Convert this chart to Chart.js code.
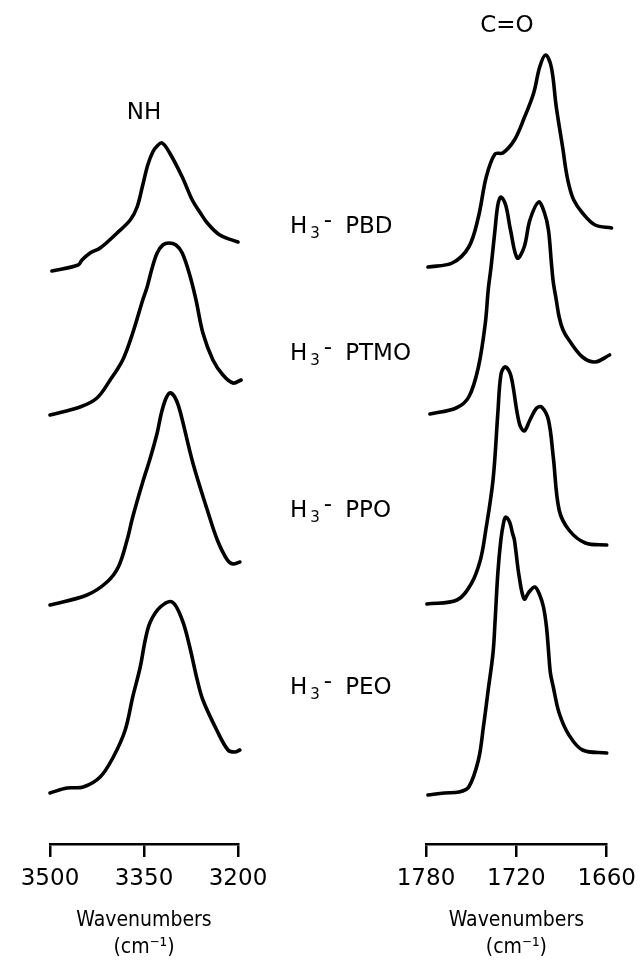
<!DOCTYPE html>
<html>
<head>
<meta charset="utf-8">
<script src="https://cdn.jsdelivr.net/npm/chart.js@4.4.1/dist/chart.umd.min.js"></script>
<style>
  html, body { margin:0; padding:0; background:#fff; }
  #wrap { position:relative; width:644px; height:971px; overflow:hidden; font-family:'DejaVu Sans', sans-serif; color:#000; }
  canvas { position:absolute; left:0; top:0; }
  .lbl { position:absolute; left:290px; font-size:23px; line-height:23px; white-space:nowrap; }
  .s { font-size:15px; position:relative; top:5px; margin-left:3px; }
  .d { position:relative; top:-6px; margin-left:4px; margin-right:13px; }
  .ttl { position:absolute; width:80px; text-align:center; font-size:23px; line-height:23px; }
</style>
</head>
<body>
<div id="wrap">
  <canvas id="nh" width="644" height="971"></canvas>
  <canvas id="co" width="644" height="971"></canvas>
  <div class="ttl" style="left:104px; top:100px;">NH</div>
  <div class="ttl" style="left:467px; top:13px;">C=O</div>
  <div class="lbl" style="top:214px;">H<span class="s">3</span><span class="d">-</span>PBD</div>
  <div class="lbl" style="top:341px;">H<span class="s">3</span><span class="d">-</span>PTMO</div>
  <div class="lbl" style="top:498px;">H<span class="s">3</span><span class="d">-</span>PPO</div>
  <div class="lbl" style="top:675px;">H<span class="s">3</span><span class="d">-</span>PEO</div>
</div>
<script>
// ---- Data (wavenumber in cm^-1, absorbance in arbitrary units above each trace's own baseline) ----
const seriesNames = ['H3-PBD', 'H3-PTMO', 'H3-PPO', 'H3-PEO'];

// NH region
const nhTicks = [3500, 3350, 3200];
const nhOffsets = [5.73, 4.29, 2.39, 0.51];
const nhPBD_wn  = [3497,3455,3449,3436,3420,3393,3372,3361,3352,3344,3336,3329,3321,3309,3289,3273,3261,3249,3229,3200];
const nhPBD_abs = [0,0.06,0.11,0.18,0.23,0.38,0.51,0.64,0.86,1.06,1.19,1.25,1.28,1.18,0.94,0.71,0.59,0.48,0.36,0.29];
const nhPTMO_wn  = [3500,3452,3425,3404,3384,3368,3352,3345,3337,3329,3320,3310,3299,3289,3277,3267,3256,3240,3224,3208,3195];
const nhPTMO_abs = [0,0.08,0.17,0.35,0.55,0.82,1.15,1.28,1.47,1.62,1.70,1.72,1.70,1.62,1.40,1.15,0.82,0.55,0.40,0.32,0.35];
const nhPPO_wn  = [3500,3441,3409,3391,3377,3368,3352,3340,3329,3323,3316,3309,3301,3293,3272,3249,3233,3217,3208,3197];
const nhPPO_abs = [0,0.10,0.23,0.38,0.65,0.88,1.23,1.47,1.72,1.90,2.05,2.12,2.08,1.95,1.42,0.95,0.65,0.45,0.41,0.43];
const nhPEO_wn  = [3500,3473,3447,3420,3399,3380,3368,3356,3348,3340,3324,3305,3289,3277,3265,3256,3234,3216,3205,3197];
const nhPEO_abs = [0,0.05,0.06,0.16,0.36,0.63,0.96,1.26,1.53,1.71,1.86,1.91,1.73,1.46,1.13,0.93,0.63,0.43,0.41,0.43];

// C=O region
const coTicks = [1780, 1720, 1660];
const coOffsets = [5.77, 4.30, 2.40, 0.49];
const coPBD_wn  = [1778.7,1762.6,1751.6,1745.2,1740.0,1734.2,1729.0,1721.3,1714.8,1708.5,1704.5,1700.6,1696.8,1693.5,1689.0,1687.1,1685.1,1681.9,1676.1,1667.7,1656.8];
const coPBD_abs = [0,0.04,0.20,0.50,0.90,1.13,1.14,1.27,1.49,1.74,2.00,2.12,2.00,1.60,1.17,0.97,0.82,0.67,0.54,0.42,0.39];
const coPTMO_wn  = [1777.4,1760.0,1751.6,1745.2,1740.6,1738.7,1736.8,1734.2,1732.3,1730.3,1727.1,1723.9,1719.4,1714.8,1711.0,1705.2,1701.3,1698.7,1696.8,1695.5,1693.5,1691.6,1689.0,1685.1,1676.1,1667.7,1658.1];
const coPTMO_abs = [0,0.06,0.17,0.47,0.91,1.24,1.47,1.84,2.09,2.17,2.09,1.84,1.56,1.67,1.94,2.12,2.01,1.84,1.52,1.32,1.14,0.97,0.84,0.74,0.57,0.52,0.59];
const coPPO_wn  = [1779.4,1759.4,1749.7,1743.9,1740.6,1735.5,1732.3,1730.3,1727.7,1724.5,1722.6,1718.1,1714.8,1711.0,1706.5,1703.2,1698.7,1695.5,1691.6,1685.1,1674.2,1660.0];
const coPPO_abs = [0,0.04,0.21,0.44,0.71,1.24,1.91,2.29,2.37,2.32,2.21,1.81,1.73,1.84,1.96,1.97,1.84,1.47,0.94,0.74,0.61,0.59];
const coPEO_wn  = [1778.7,1767.7,1758.0,1751.6,1745.2,1741.9,1738.7,1735.5,1734.2,1732.3,1730.3,1728.4,1727.1,1724.5,1722.6,1721.3,1718.1,1714.8,1711.6,1707.7,1704.5,1702.0,1700.0,1698.7,1697.4,1695.5,1691.6,1685.1,1676.1,1660.0];
const coPEO_abs = [0,0.02,0.03,0.08,0.35,0.68,1.05,1.42,1.72,2.22,2.55,2.73,2.78,2.73,2.62,2.55,2.18,1.96,2.03,2.08,2.00,1.88,1.68,1.45,1.22,1.08,0.82,0.60,0.45,0.42];

// ---- Build ----
Chart.defaults.font.family = "'DejaVu Sans', sans-serif";
Chart.defaults.color = '#000';

function toPoints(wn, abs, off) {
  return wn.map((w, i) => ({ x: w, y: abs[i] + off }));
}
function makeDatasets(list, offsets) {
  return list.map((s, k) => ({
    label: seriesNames[k],
    data: toPoints(s[0], s[1], offsets[k]),
    borderColor: '#000',
    borderWidth: 3.6,
    pointRadius: 0,
    fill: false,
    tension: 0.35,
    borderCapStyle: 'round',
    borderJoinStyle: 'round',
    clip: false
  }));
}

function makeChart(id, padL, padR, ticks, datasets) {
  const lo = Math.min(...ticks), hi = Math.max(...ticks);
  return new Chart(document.getElementById(id), {
    type: 'line',
    data: { datasets },
    options: {
      responsive: false,
      animation: false,
      devicePixelRatio: 1,
      layout: { padding: { left: padL, right: padR, top: 44, bottom: 9 } },
      plugins: { legend: { display: false }, tooltip: { enabled: false } },
      scales: {
        x: {
          type: 'linear',
          reverse: true,
          min: lo, max: hi,
          afterBuildTicks: (s) => { s.ticks = ticks.map(v => ({ value: v })); },
          grid: { drawOnChartArea: false, drawTicks: true, tickLength: 13, color: '#000', lineWidth: 2.5 },
          border: { display: true, color: '#000', width: 2.5 },
          ticks: { color: '#000', font: { size: 23 }, padding: 8, maxRotation: 0, autoSkip: false,
                   callback: (v) => String(v) },
          title: { display: true, text: ['Wavenumbers', '(cm\u207B\u00B9)'], color: '#000',
                   font: { family: "'DejaVu Sans Condensed', 'DejaVu Sans', sans-serif", size: 21, lineHeight: 1.33 },
                   padding: { top: 0, bottom: 0 } },
          afterFit: (s) => { s.height = 118; }
        },
        y: { display: false, min: 0, max: 8 }
      }
    }
  });
}

makeChart('nh', 50, 644 - 238, nhTicks, makeDatasets([
  [nhPBD_wn, nhPBD_abs], [nhPTMO_wn, nhPTMO_abs], [nhPPO_wn, nhPPO_abs], [nhPEO_wn, nhPEO_abs]
], nhOffsets));

makeChart('co', 426, 644 - 612, coTicks, makeDatasets([
  [coPBD_wn, coPBD_abs], [coPTMO_wn, coPTMO_abs], [coPPO_wn, coPPO_abs], [coPEO_wn, coPEO_abs]
], coOffsets));
</script>
</body>
</html>
